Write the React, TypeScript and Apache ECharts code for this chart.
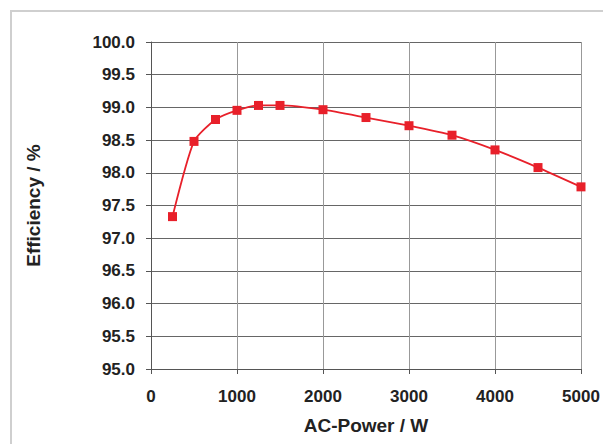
import React, { useEffect, useRef } from "react";
import * as echarts from "echarts";

const powerW = [250, 500, 750, 1000, 1250, 1500, 2000, 2500, 3000, 3500, 4000, 4500, 5000];
const efficiency = [97.33, 98.48, 98.815, 98.955, 99.03, 99.03, 98.965, 98.845, 98.72, 98.575, 98.35, 98.08, 97.785];
const xTitle = "AC-Power / W";
const yTitle = "Efficiency / %";

export default function App() {
  const ref = useRef<HTMLDivElement>(null);
  useEffect(() => {
    if (!ref.current) return;
    const chart = echarts.init(ref.current, null, { renderer: "svg" });
    const font = "'Liberation Sans', Arial, sans-serif";
    chart.setOption({
      animation: false,
      backgroundColor: "#ffffff",
      graphic: [
        {
          type: "rect",
          shape: { x: 11, y: 11, width: 700, height: 600 },
          style: { fill: "none", stroke: "#cfcfcf", lineWidth: 2 },
          silent: true,
        },
      ],
      grid: { left: 151, right: 22, top: 42, bottom: 75 },
      xAxis: {
        type: "value",
        min: 0,
        max: 5000,
        interval: 1000,
        name: xTitle,
        nameLocation: "middle",
        nameGap: 47,
        nameTextStyle: { fontFamily: font, fontWeight: "bold", fontSize: 19, color: "#222" },
        axisLine: { show: true, lineStyle: { color: "#555", width: 1 } },
        axisTick: { show: true, inside: false, length: 5, lineStyle: { color: "#555" } },
        axisLabel: {
          fontFamily: font,
          fontWeight: "bold",
          fontSize: 17,
          color: "#222",
          margin: 19,
          formatter: (v: number) => String(v),
        },
        splitLine: { show: true, lineStyle: { color: "#999", width: 1 } },
      },
      yAxis: {
        type: "value",
        min: 95,
        max: 100,
        interval: 0.5,
        name: yTitle,
        nameLocation: "middle",
        nameGap: 108,
        nameTextStyle: { fontFamily: font, fontWeight: "bold", fontSize: 19, color: "#222" },
        axisLine: { show: true, lineStyle: { color: "#555", width: 1 } },
        axisTick: { show: true, inside: false, length: 5, lineStyle: { color: "#555" } },
        axisLabel: {
          fontFamily: font,
          fontWeight: "bold",
          fontSize: 17,
          color: "#222",
          margin: 16,
          formatter: (v: number) => v.toFixed(1),
        },
        splitLine: { show: true, lineStyle: { color: "#666", width: 1 } },
      },
      series: [
        {
          type: "line",
          data: powerW.map((x, i) => [x, efficiency[i]]),
          smooth: 0.2,
          symbol: "rect",
          symbolSize: 9,
          itemStyle: { color: "#e8202a" },
          lineStyle: { color: "#e8202a", width: 1.8 },
        },
      ],
    });
    return () => chart.dispose();
  }, []);
  return (
    <div
      ref={ref}
      style={{ position: "absolute", left: 0, top: 0, width: 603, height: 444 }}
    />
  );
}
